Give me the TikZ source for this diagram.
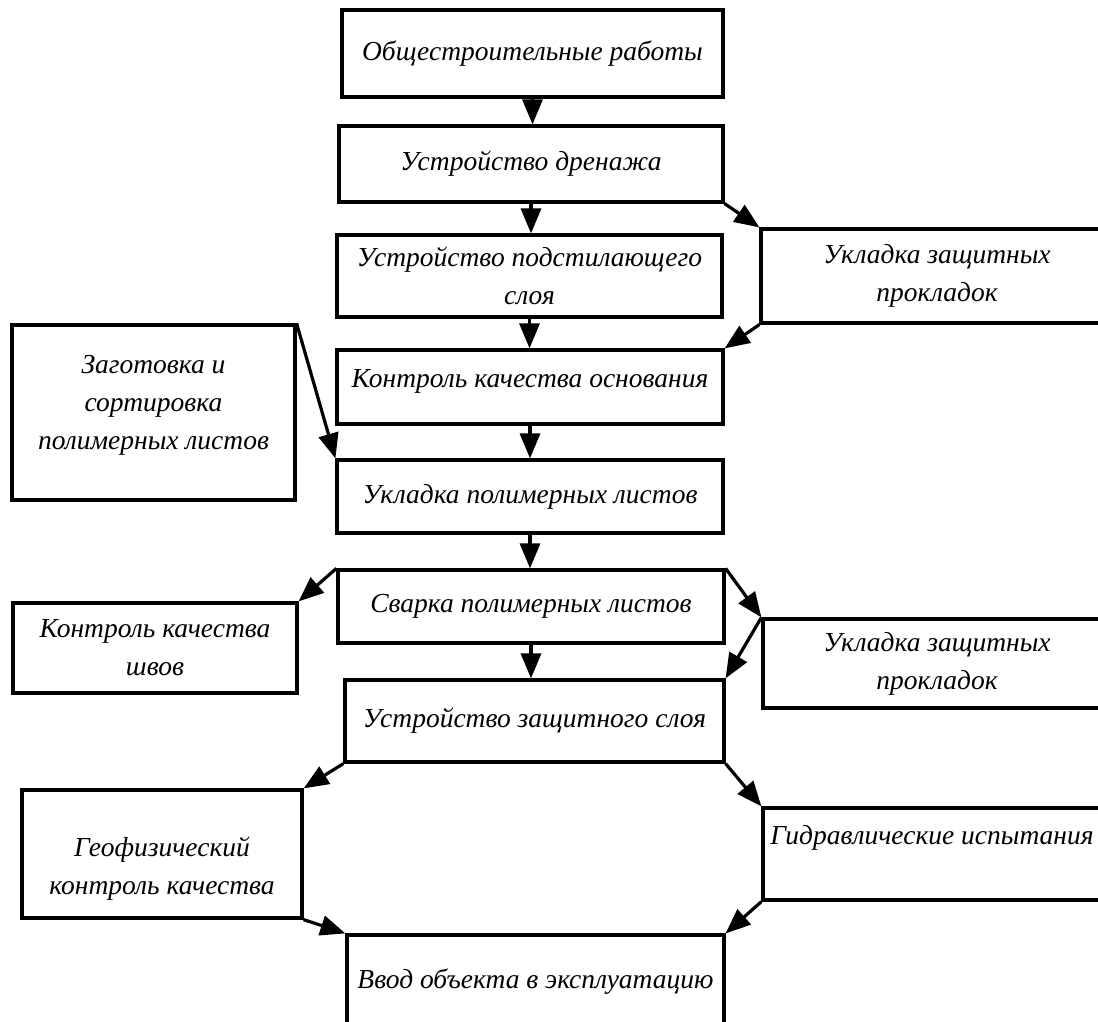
\documentclass[tikz,border=0pt]{standalone}
\usepackage{fontspec}
\setmainfont{Liberation Serif}
\usetikzlibrary{arrows.meta}
\begin{document}
\begin{tikzpicture}[x=1pt,y=-1pt,
  box/.style={draw, line width=3.2pt, rectangle, inner sep=0pt, align=center,
    font=\fontsize{27.5}{38}\selectfont\itshape},
  txt/.style={inner sep=0pt, align=center, font=\fontsize{27.5}{38}\selectfont\itshape},
  arr/.style={line width=3.2pt, -{Triangle[length=25pt,width=20pt]}}]
\clip (0,0) rectangle (1098,1021);
\fill[white] (0,0) rectangle (1098,1021);
% main column
\node[box, minimum width=381pt, minimum height=87pt] (b1) at (532.5,53.5) {Общестроительные работы};
\node[box, minimum width=384pt, minimum height=76pt] (b2) at (531,164) {Устройство дренажа};
\node[box, minimum width=385pt, minimum height=82pt] (b3) at (529.5,276) {Устройство подстилающего\\слоя};
\node[box, minimum width=386pt, minimum height=74pt] (b5) at (530,387) {};
\node[txt] (t5) at (530,381) {Контроль качества основания};
\node[box, minimum width=386pt, minimum height=73pt] (b7) at (530,496.5) {Укладка полимерных листов};
\node[box, minimum width=386pt, minimum height=73pt] (b8) at (531,606.5) {Сварка полимерных листов};
\node[box, minimum width=379pt, minimum height=82pt] (b11) at (534.5,721) {Устройство защитного слоя};
\node[box, minimum width=377pt, minimum height=100pt] (b14) at (535.5,985) {};
\node[txt] (t14) at (535.5,982) {Ввод объекта в эксплуатацию};
% right column
\node[box, minimum width=352pt, minimum height=94pt] (b4) at (937,276) {Укладка защитных\\прокладок};
\node[box, minimum width=348pt, minimum height=89pt] (b10) at (937,663.5) {Укладка защитных\\прокладок};
\node[box, minimum width=348pt, minimum height=92pt] (b13) at (937,854) {};
\node[txt] (t13) at (932,838) {Гидравлические испытания};
% left column
\node[box, minimum width=283pt, minimum height=175pt] (b6) at (153.5,412.5) {};
\node[txt] (t6) at (153.5,405) {Заготовка и\\сортировка\\полимерных листов};
\node[box, minimum width=284pt, minimum height=90pt] (b9) at (155,648) {Контроль качества\\швов};
\node[box, minimum width=280pt, minimum height=128pt] (b12) at (162,854) {};
\node[txt] (t12) at (162,869) {Геофизический\\контроль качества};
% vertical arrows
\draw[arr] (b1.south) -- (b1.south |- b2.north);
\draw[arr] (b2.south) -- (b2.south |- b3.north);
\draw[arr] (b3.south) -- (b3.south |- b5.north);
\draw[arr] (b5.south) -- (b5.south |- b7.north);
\draw[arr] (b7.south) -- (b7.south |- b8.north);
\draw[arr] (b8.south) -- (b8.south |- b11.north);
% side arrows
\draw[arr] (b2.south east) -- (b4.north west);
\draw[arr] (b4.south west) -- (b5.north east);
\draw[arr] (b6.north east) -- (b7.north west);
\draw[arr] (b8.north west) -- (b9.north east);
\draw[arr] (b8.north east) -- (b10.north west);
\draw[arr] (b10.north west) -- (b11.north east);
\draw[arr] (b11.south west) -- (b12.north east);
\draw[arr] (b11.south east) -- (b13.north west);
\draw[arr] (b12.south east) -- (b14.north west);
\draw[arr] (b13.south west) -- (b14.north east);
\end{tikzpicture}
\end{document}
